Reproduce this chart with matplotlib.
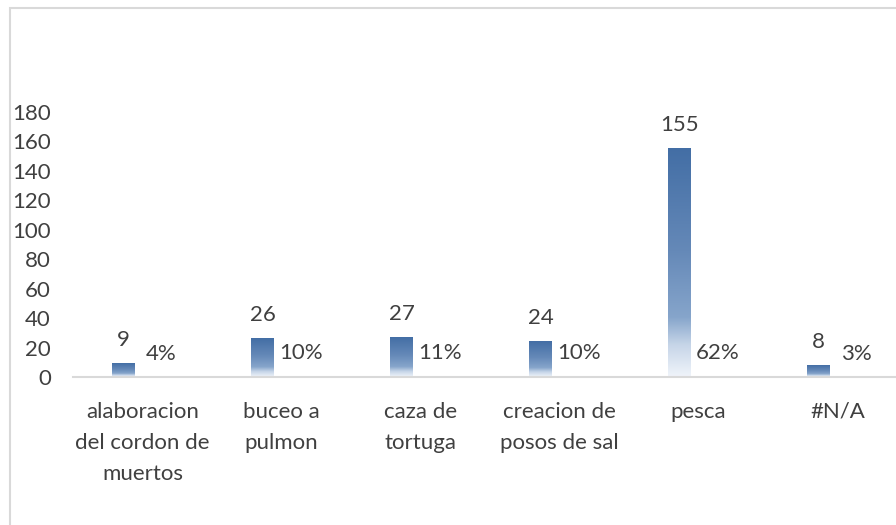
import matplotlib
matplotlib.use("Agg")
import matplotlib.pyplot as plt
import numpy as np
from matplotlib.colors import LinearSegmentedColormap
from matplotlib.patches import Rectangle

categories = ["alaboracion\ndel cordon de\nmuertos", "buceo a\npulmon", "caza de\ntortuga",
              "creacion de\nposos de sal", "pesca", "#N/A"]
counts = [9, 26, 27, 24, 155, 8]
percents = [0.04, 0.10, 0.11, 0.10, 0.62, 0.03]
yticks = [0, 20, 40, 60, 80, 100, 120, 140, 160, 180]

plt.rcParams['font.family'] = ['Lato', 'DejaVu Sans']
TXT = '#404040'

W, H = 896, 525
fig = plt.figure(figsize=(W / 100, H / 100), dpi=100)
# chart border (partly clipped on right / bottom)
fig.patches.append(Rectangle((10 / W, -0.05), 1.1, 1 - 8 / H + 0.05, transform=fig.transFigure,
                             fill=False, edgecolor='#d9d9d9', linewidth=1.5))

left, right = 73, 907
top, bottom = 112, 377
ax = fig.add_axes([left / W, 1 - bottom / H, (right - left) / W, (bottom - top) / H])

x = np.arange(len(categories))
bw = 0.165
off = 0.137
b1 = ax.bar(x - off, counts, width=bw, color='none', edgecolor='none')
b2 = ax.bar(x + off, percents, width=bw, color='none', edgecolor='none')

cmap = LinearSegmentedColormap.from_list('g', [(0.0, '#436ea5'), (0.45, '#6589b8'),
                                               (0.74, '#86a5cb'), (0.86, '#c6d5e8'),
                                               (1.0, '#f0f4fa')])
grad = np.linspace(0, 1, 256).reshape(-1, 1)
for bars in (b1, b2):
    for r in bars:
        bx, by = r.get_x(), r.get_y()
        w, h = r.get_width(), r.get_height()
        ax.imshow(grad, cmap=cmap, extent=[bx, bx + w, by, by + h], origin='upper',
                  aspect='auto', zorder=2, interpolation='bilinear')

FS = 16
for r, v in zip(b1, counts):
    ax.annotate(f"{v}", (r.get_x() + r.get_width() / 2, r.get_height()), xytext=(0, 12.5),
                textcoords='offset points', ha='center', va='baseline', fontsize=FS, color=TXT)
for r, v in zip(b2, percents):
    ax.annotate(f"{v:.0%}", (r.get_x() + r.get_width() / 2, r.get_height()), xytext=(0, 12.5),
                textcoords='offset points', ha='center', va='baseline', fontsize=FS, color=TXT)

ax.set_xlim(-0.5, len(categories) - 0.5)
ax.set_ylim(0, 180)
ax.set_yticks(yticks)
ax.set_xticks(x)
ax.set_xticklabels(categories, fontsize=FS, color=TXT, linespacing=1.68)
ax.tick_params(axis='y', length=0, pad=16, labelsize=FS, labelcolor=TXT)
ax.tick_params(axis='x', length=0, pad=18)
for s in ('top', 'right', 'left'):
    ax.spines[s].set_visible(False)
ax.spines['bottom'].set_color('#d9d9d9')
ax.spines['bottom'].set_linewidth(1.5)
ax.spines['bottom'].set_zorder(3)

fig.savefig('out.png', dpi=100)
